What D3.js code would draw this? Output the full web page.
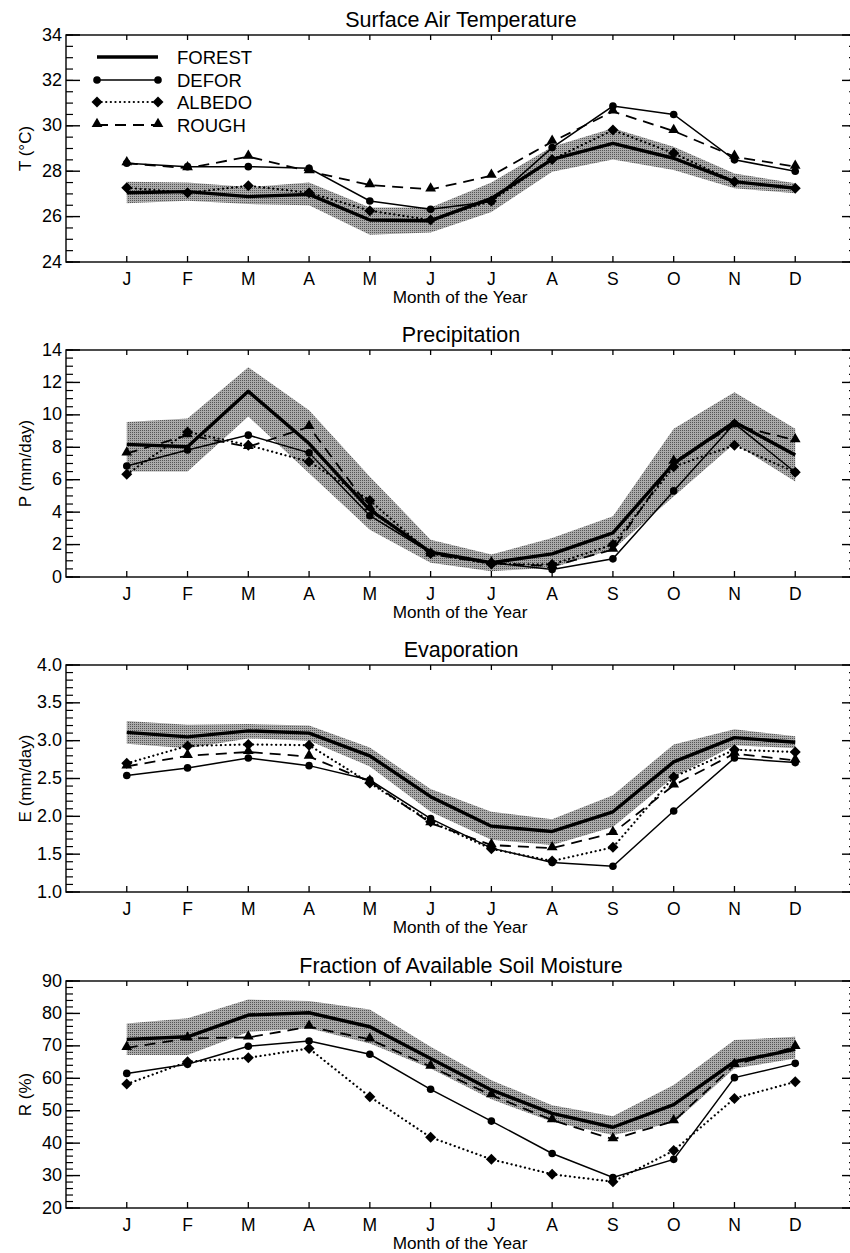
<!DOCTYPE html>
<html>
<head>
<meta charset="utf-8">
<script src="https://cdn.jsdelivr.net/npm/d3@7"></script>
<style>
  body { margin: 0; background: #fff; }
  svg { display: block; font-family: "Liberation Sans", Arial, Helvetica, sans-serif; }
</style>
</head>
<body>
<div id="chart"></div>
<script>
// month ticks
var months = ["J","F","M","A","M","J","J","A","S","O","N","D"];

// Surface air temperature (deg C)
var tForest   = [27.05, 27.1, 26.88, 26.98, 25.85, 25.82, 26.8, 28.52, 29.23, 28.57, 27.54, 27.25];
var tForestHi = [27.54, 27.5, 27.3, 27.5, 26.4, 26.4, 27.5, 29.08, 29.89, 29.08, 27.9, 27.47];
var tForestLo = [26.59, 26.7, 26.55, 26.5, 25.2, 25.3, 26.2, 27.98, 28.52, 28.05, 27.25, 27.03];
var tDefor    = [28.35, 28.2, 28.2, 28.13, 26.69, 26.32, 26.66, 29.04, 30.87, 30.5, 28.5, 28.0];
var tAlbedo   = [27.27, 27.05, 27.36, 27.05, 26.26, 25.85, 26.69, 28.52, 29.81, 28.79, 27.54, 27.25];
var tRough    = [28.35, 28.13, 28.64, 28.0, 27.39, 27.2, 27.8, 29.3, 30.63, 29.77, 28.64, 28.2];

// Precipitation (mm/day)
var pForest   = [8.18, 8.03, 11.45, 8.23, 4.14, 1.53, 0.88, 1.43, 2.72, 7.0, 9.56, 7.52];
var pForestHi = [9.56, 9.77, 12.94, 10.28, 6.19, 2.3, 1.39, 2.4, 3.74, 9.15, 11.4, 9.15];
var pForestLo = [6.5, 6.5, 9.9, 6.4, 2.92, 0.88, 0.36, 0.57, 1.69, 4.97, 8.24, 5.89];
var pDefor    = [6.85, 7.83, 8.75, 7.66, 3.78, 1.5, 0.88, 0.47, 1.12, 5.31, 9.46, 6.46];
var pAlbedo   = [6.33, 8.95, 8.13, 7.11, 4.72, 1.45, 0.8, 0.77, 2.0, 6.8, 8.13, 6.46];
var pRough    = [7.62, 8.75, 8.03, 9.26, 4.25, 1.4, 0.85, 0.67, 1.69, 7.11, 9.36, 8.44];

// Evaporation (mm/day)
var eForest   = [3.11, 3.05, 3.13, 3.10, 2.80, 2.26, 1.87, 1.80, 2.06, 2.72, 3.04, 2.98];
var eForestHi = [3.26, 3.21, 3.22, 3.2, 2.91, 2.36, 2.06, 1.96, 2.28, 2.95, 3.15, 3.06];
var eForestLo = [2.96, 2.90, 3.03, 3.0, 2.66, 2.06, 1.69, 1.62, 1.86, 2.52, 2.94, 2.9];
var eDefor    = [2.54, 2.64, 2.77, 2.67, 2.48, 1.97, 1.58, 1.39, 1.34, 2.07, 2.77, 2.71];
var eAlbedo   = [2.70, 2.93, 2.95, 2.94, 2.44, 1.93, 1.57, 1.41, 1.59, 2.52, 2.88, 2.85];
var eRough    = [2.66, 2.80, 2.85, 2.79, 2.46, 1.91, 1.62, 1.58, 1.78, 2.41, 2.83, 2.74];

// Fraction of available soil moisture (%)
var rForest   = [72.0, 72.8, 79.5, 80.2, 75.9, 66.1, 56.4, 49.2, 44.9, 51.9, 65.1, 68.9];
var rForestHi = [76.9, 78.5, 84.3, 83.8, 81.2, 69.7, 59.4, 51.7, 48.3, 57.9, 71.8, 72.8];
var rForestLo = [67.2, 67.2, 74.3, 75.4, 70.7, 63.0, 53.5, 46.6, 42.5, 46.3, 63.0, 66.1];
var rDefor    = [61.5, 64.3, 69.9, 71.5, 67.4, 56.6, 46.8, 36.8, 29.4, 35.0, 60.2, 64.6];
var rAlbedo   = [58.2, 65.1, 66.3, 69.2, 54.3, 41.8, 35.0, 30.4, 28.1, 37.7, 53.8, 58.9];
var rRough    = [69.4, 72.3, 72.6, 75.9, 72.0, 63.6, 54.8, 47.1, 41.2, 46.8, 64.1, 69.7];

var legendNames = ["FOREST", "DEFOR", "ALBEDO", "ROUGH"];

var panels = [
  {title: "Surface Air Temperature", ylab: "T (\u00B0C)", dom: [24, 34], major: 2, minor: 0.5, fmt: "d", top: 35,
   forest: tForest, hi: tForestHi, lo: tForestLo, defor: tDefor, albedo: tAlbedo, rough: tRough, legend: true},
  {title: "Precipitation", ylab: "P (mm/day)", dom: [0, 14], major: 2, minor: 0.5, fmt: "d", top: 350,
   forest: pForest, hi: pForestHi, lo: pForestLo, defor: pDefor, albedo: pAlbedo, rough: pRough},
  {title: "Evaporation", ylab: "E (mm/day)", dom: [1, 4], major: 0.5, minor: 0.1, fmt: ".1f", top: 665,
   forest: eForest, hi: eForestHi, lo: eForestLo, defor: eDefor, albedo: eAlbedo, rough: eRough},
  {title: "Fraction of Available Soil Moisture", ylab: "R (%)", dom: [20, 90], major: 10, minor: 2, fmt: "d", top: 981,
   forest: rForest, hi: rForestHi, lo: rForestLo, defor: rDefor, albedo: rAlbedo, rough: rRough}
];

var W = 850, H = 1253,
  left = 66, right = 856, ph = 227;

var svg = d3.select("#chart").append("svg")
  .attr("width", W).attr("height", H);

// halftone-ish fill for the forest spread
var pat = svg.append("defs").append("pattern")
  .attr("id", "stip").attr("width", 2).attr("height", 2)
  .attr("patternUnits", "userSpaceOnUse");
pat.append("rect").attr("width", 2).attr("height", 2).attr("fill", "#ababab");
pat.append("rect").attr("width", 1).attr("height", 1).attr("fill", "#555");

var x = d3.scaleLinear().domain([-1, 12]).range([left, right]);
var idx = d3.range(12);

// square diamond, not the tall d3 one
var diamond = "M0,-5.5L5.5,0L0,5.5L-5.5,0Z";
var tri = d3.symbol().type(d3.symbolTriangle).size(50);

function ticksBetween(dom, step) {
  var n = Math.round((dom[1] - dom[0]) / step);
  return d3.range(n + 1).map(function (i) { return +(dom[0] + i * step).toFixed(4); });
}

panels.forEach(function (p) {
  var top = p.top, bot = top + ph;
  var y = d3.scaleLinear().domain(p.dom).range([bot, top]);
  var g = svg.append("g");

  // band
  var area = d3.area()
    .x(function (i) { return x(i); })
    .y0(function (i) { return y(p.lo[i]); })
    .y1(function (i) { return y(p.hi[i]); });
  g.append("path").attr("d", area(idx)).attr("fill", "url(#stip)");

  var line = function (arr) {
    return d3.line().x(function (i) { return x(i); }).y(function (i) { return y(arr[i]); })(idx);
  };

  g.append("path").attr("d", line(p.forest)).attr("fill", "none")
    .attr("stroke", "#000").attr("stroke-width", 3.4).attr("stroke-linejoin", "round");
  g.append("path").attr("d", line(p.defor)).attr("fill", "none")
    .attr("stroke", "#000").attr("stroke-width", 1.5);
  g.append("path").attr("d", line(p.albedo)).attr("fill", "none")
    .attr("stroke", "#000").attr("stroke-width", 2.2).attr("stroke-dasharray", "0.1,4.5")
    .attr("stroke-linecap", "round");
  g.append("path").attr("d", line(p.rough)).attr("fill", "none")
    .attr("stroke", "#000").attr("stroke-width", 1.8).attr("stroke-dasharray", "11,7");

  g.selectAll(".c").data(idx).enter().append("circle")
    .attr("cx", function (i) { return x(i); }).attr("cy", function (i) { return y(p.defor[i]); })
    .attr("r", 3.8).attr("fill", "#000");
  g.selectAll(".d").data(idx).enter().append("path")
    .attr("d", diamond)
    .attr("transform", function (i) { return "translate(" + x(i) + "," + y(p.albedo[i]) + ")"; })
    .attr("fill", "#000");
  g.selectAll(".t").data(idx).enter().append("path")
    .attr("d", tri)
    .attr("transform", function (i) { return "translate(" + x(i) + "," + (y(p.rough[i]) - 1) + ")"; })
    .attr("fill", "#000");

  // frame
  g.append("rect").attr("x", left).attr("y", top).attr("width", right - left).attr("height", ph)
    .attr("fill", "none").attr("stroke", "#000").attr("stroke-width", 1.4);

  // y ticks left and right
  var minors = ticksBetween(p.dom, p.minor);
  var majors = ticksBetween(p.dom, p.major);
  g.selectAll(".ym").data(minors).enter().append("line")
    .attr("x1", left).attr("x2", left + 7).attr("y1", y).attr("y2", y)
    .attr("stroke", "#000").attr("stroke-width", 1.2);
  g.selectAll(".yM").data(majors).enter().append("line")
    .attr("x1", left).attr("x2", left + 14).attr("y1", y).attr("y2", y)
    .attr("stroke", "#000").attr("stroke-width", 1.4);
  g.selectAll(".rm").data(minors).enter().append("line")
    .attr("x1", right).attr("x2", right - 7).attr("y1", y).attr("y2", y)
    .attr("stroke", "#000").attr("stroke-width", 1.2);
  g.selectAll(".rM").data(majors).enter().append("line")
    .attr("x1", right).attr("x2", right - 14).attr("y1", y).attr("y2", y)
    .attr("stroke", "#000").attr("stroke-width", 1.4);
  g.selectAll(".yl").data(majors).enter().append("text")
    .attr("x", left - 4).attr("y", function (d) { return y(d) + 5.5; })
    .attr("text-anchor", "end").attr("font-size", 18)
    .text(d3.format(p.fmt));

  // x ticks
  g.selectAll(".xb").data(idx).enter().append("line")
    .attr("x1", x).attr("x2", x).attr("y1", bot).attr("y2", bot - 6)
    .attr("stroke", "#000").attr("stroke-width", 1.3);
  g.selectAll(".xt").data(idx).enter().append("line")
    .attr("x1", x).attr("x2", x).attr("y1", top).attr("y2", top + 5)
    .attr("stroke", "#000").attr("stroke-width", 1.3);
  g.selectAll(".xl").data(idx).enter().append("text")
    .attr("x", x).attr("y", bot + 23)
    .attr("text-anchor", "middle").attr("font-size", 17.5)
    .text(function (i) { return months[i]; });

  g.append("text").attr("x", 460).attr("y", bot + 41)
    .attr("text-anchor", "middle").attr("font-size", 17.2)
    .text("Month of the Year");

  g.append("text").attr("x", 461).attr("y", top - 8)
    .attr("text-anchor", "middle").attr("font-size", 21.5)
    .text(p.title);

  g.append("text")
    .attr("transform", "translate(31," + ((top + bot) / 2) + ") rotate(-90)")
    .attr("text-anchor", "middle").attr("font-size", 17)
    .text(p.ylab);

  if (p.legend) {
    var lg = g.append("g");
    var ly = [57, 80, 102, 125], x0 = 97, x1 = 158;
    legendNames.forEach(function (name, k) {
      var yy = ly[k];
      var ln = lg.append("line").attr("x1", x0).attr("x2", x1).attr("y1", yy).attr("y2", yy)
        .attr("stroke", "#000");
      if (k === 0) ln.attr("stroke-width", 3.4);
      if (k === 1) {
        ln.attr("stroke-width", 1.5);
        [x0, x1].forEach(function (xx) {
          lg.append("circle").attr("cx", xx).attr("cy", yy).attr("r", 3.8).attr("fill", "#000");
        });
      }
      if (k === 2) {
        ln.attr("stroke-width", 2.2).attr("stroke-dasharray", "0.1,4.5").attr("stroke-linecap", "round");
        [x0, x1].forEach(function (xx) {
          lg.append("path").attr("d", diamond).attr("transform", "translate(" + xx + "," + yy + ")");
        });
      }
      if (k === 3) {
        ln.attr("stroke-width", 1.8).attr("stroke-dasharray", "11,7");
        [x0, x1].forEach(function (xx) {
          lg.append("path").attr("d", tri).attr("transform", "translate(" + xx + "," + (yy - 1) + ")");
        });
      }
      lg.append("text").attr("x", 177).attr("y", yy + 6.5).attr("font-size", 18.5).text(name);
    });
  }
});
</script>
</body>
</html>
